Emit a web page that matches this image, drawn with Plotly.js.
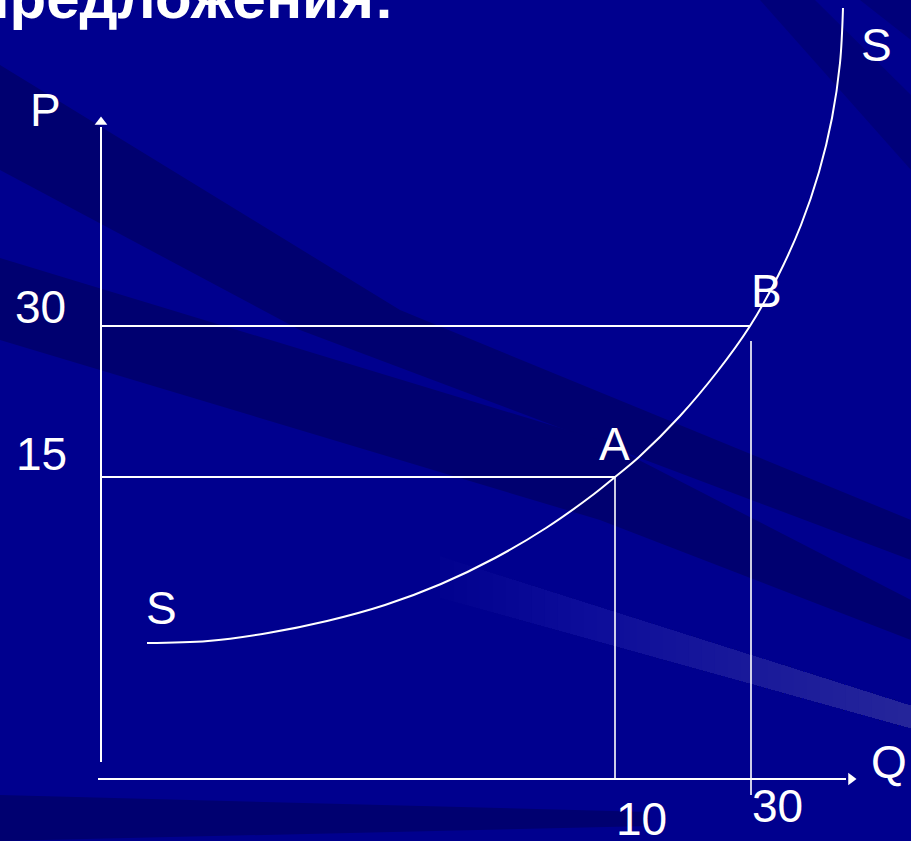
<!DOCTYPE html>
<html><head><meta charset="utf-8">
<script src="https://cdn.plot.ly/plotly-3.0.1.min.js"></script>
<style>html,body{margin:0;padding:0;background:#00008e;overflow:hidden}#chart{width:911px;height:841px}</style>
</head><body><div id="chart"></div>
<script>
// ---- data (drawing units of the slide, origin top-left, y downward) ----
const supplyQ = [147,208,268,327,385,441,495,546,594,615,639,680,717,750,778,801,819,832,840,843];
const supplyP = [643,641,633,621,605,584,558,528,494,477,457,416,372,326,276,225,172,118,63,8];
const pointNames = ['A','B'];
const pointQ = [615,750];
const pointP = [477,326];
const priceTickLabels = ['30','15'];
const qtyTickLabels = ['10','30'];
const curveLabel = 'S';
const axisNames = ['P','Q'];
const titleText = 'предложения:';

// ---- layout constants ----
const W = 911, H = 841;
const originQ = 101, baseP = 779, yTop = 127, xRight = 846;
const WHITE = '#ffffff';
const FONT = 'Liberation Sans, Arial, sans-serif';
const FS = 46;

const traces = [];
function seg(x, y, w) {
  traces.push({type:'scatter', mode:'lines', x:x, y:y, line:{color:WHITE, width:w||2}, hoverinfo:'skip', showlegend:false});
}
// axes
seg([originQ, originQ], [762, yTop]);
seg([originQ - 3, xRight], [baseP, baseP]);
traces.push({type:'scatter', mode:'markers', x:[originQ], y:[yTop - 5], marker:{symbol:'triangle-up', size:11, color:WHITE}, hoverinfo:'skip', showlegend:false});
traces.push({type:'scatter', mode:'markers', x:[xRight + 5], y:[baseP], marker:{symbol:'triangle-right', size:11, color:WHITE}, hoverinfo:'skip', showlegend:false});
// guides from the points
seg([originQ, pointQ[0]], [pointP[0], pointP[0]]);
seg([originQ, pointQ[1]], [pointP[1], pointP[1]]);
seg([pointQ[0], pointQ[0]], [pointP[0], baseP], 1.6);
seg([pointQ[1] + 1, pointQ[1] + 1], [pointP[1] + 15, baseP + 16], 1.6);
// supply curve
traces.push({type:'scatter', mode:'lines', x:supplyQ, y:supplyP, line:{color:WHITE, width:2, shape:'spline', smoothing:1}, hoverinfo:'skip', showlegend:false});

// ---- background streaks ----
const shapes = [];
function poly(pts, color) {
  shapes.push({type:'path', xref:'x', yref:'y', layer:'below', line:{width:0}, fillcolor:color,
    path:'M' + pts.map(p => p[0] + ',' + p[1]).join(' L') + ' Z'});
}
const DARK = '#000070';
poly([[0,65],[400,310],[911,520],[911,560],[300,330],[0,170]], DARK);
poly([[0,258],[600,440],[911,600],[911,640],[600,520],[0,340]], DARK);
poly([[0,795],[650,812],[650,826],[0,841]], DARK);
poly([[760,0],[815,0],[911,95],[911,170]], '#00007a');
poly([[860,0],[911,0],[911,40]], '#00007a');
// light streak, brighter to the right (stacked translucent layers, no seams)
const lt = [[440,556],[911,705]], lb = [[440,598],[911,729]];
function yAt(l, x){ return l[0][1] + (l[1][1]-l[0][1])*(x-l[0][0])/(l[1][0]-l[0][0]); }
const steps = 36;
for (let i = 0; i < steps; i++) {
  const x0 = 440 + (911-440)*i/steps;
  poly([[x0,yAt(lt,x0)],[911,yAt(lt,911)],[911,yAt(lb,911)],[x0,yAt(lb,x0)]], 'rgba(120,120,200,0.019)');
}

// ---- labels ----
function lab(text, x, y) {
  return {text:text, x:x, y:y, xref:'x', yref:'y', showarrow:false, xanchor:'center', yanchor:'middle',
    font:{family:FONT, size:FS, color:WHITE}};
}
const annotations = [
  lab(axisNames[0], 45, 110),
  lab(axisNames[1], 889, 762),
  lab(priceTickLabels[0], 40, 307),
  lab(priceTickLabels[1], 41, 454),
  lab(qtyTickLabels[0], 641, 819),
  lab(qtyTickLabels[1], 777, 806),
  lab(curveLabel, 161, 608),
  lab(curveLabel, 876, 45),
  lab(pointNames[0], 614, 444),
  lab(pointNames[1], 766, 291)
];

const layout = {
  width:W, height:H, margin:{l:0, r:0, t:0, b:0, pad:0},
  paper_bgcolor:'#00008e', plot_bgcolor:'rgba(0,0,0,0)',
  xaxis:{range:[0,W], visible:false, fixedrange:true},
  yaxis:{range:[H,0], visible:false, fixedrange:true},
  showlegend:false,
  title:{text:'<b>' + titleText + '</b>', font:{family:FONT, size:60, color:WHITE},
    x:394/W, xanchor:'right', xref:'container', y:1 - 18/H, yref:'container', yanchor:'bottom', pad:{t:0,b:0,l:0,r:0}},
  shapes:shapes, annotations:annotations
};
Plotly.newPlot('chart', traces, layout, {staticPlot:true, displayModeBar:false});
</script></body></html>
